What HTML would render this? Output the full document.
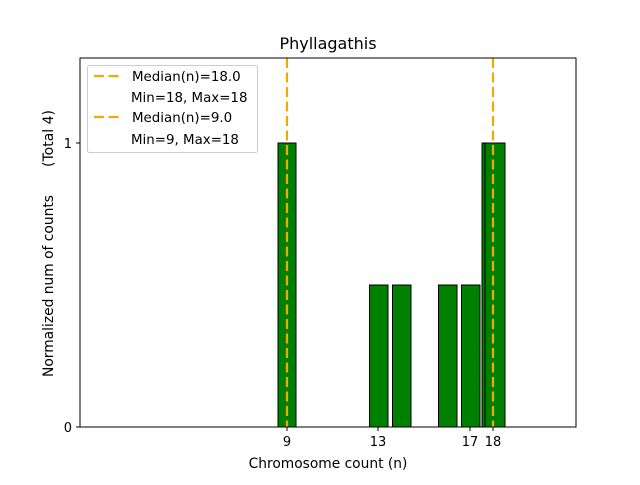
<!DOCTYPE html>
<html><head><style>body{margin:0;background:#fff}</style></head><body>
<svg width="640" height="480" xmlns="http://www.w3.org/2000/svg" font-family="DejaVu Sans, Liberation Sans, sans-serif">
<rect width="640" height="480" fill="#fff"/>
<g fill="green" stroke="#000" stroke-width="1">
<rect x="278" y="143" width="18" height="284"/>
<rect x="369.5" y="285" width="18.5" height="142"/>
<rect x="392.5" y="285" width="18.5" height="142"/>
<rect x="438.5" y="285" width="18.5" height="142"/>
<rect x="461.5" y="285" width="18.5" height="142"/>
<rect x="482" y="143" width="20" height="284"/>
<rect x="485" y="143" width="20" height="284"/>
</g>
<g stroke="#f2a900" stroke-width="2.2" stroke-dasharray="10,4.5">
<line x1="287" y1="58" x2="287" y2="427"/>
<line x1="493" y1="58" x2="493" y2="427"/>
</g>
<rect x="80" y="58" width="496" height="369" fill="none" stroke="#000" stroke-width="1"/>
<g stroke="#000"><line x1="76" y1="427" x2="80" y2="427"/><line x1="76" y1="143" x2="80" y2="143"/>
<line x1="287" y1="427" x2="287" y2="431"/><line x1="378" y1="427" x2="378" y2="431"/><line x1="470" y1="427" x2="470" y2="431"/><line x1="493" y1="427" x2="493" y2="431"/></g>
<g font-size="13" fill="#000">
<text x="72" y="432" text-anchor="end">0</text><text x="72" y="148" text-anchor="end">1</text>
<text x="287" y="446" text-anchor="middle">9</text><text x="378" y="446" text-anchor="middle">13</text>
<text x="470" y="446" text-anchor="middle">17</text><text x="493" y="446" text-anchor="middle">18</text>
<text x="328" y="468" text-anchor="middle" font-size="13.8">Chromosome count (n)</text>
<text transform="translate(53,286) rotate(-90)" text-anchor="middle" font-size="13.8" textLength="182" lengthAdjust="spacingAndGlyphs">Normalized num of counts</text>
<text transform="translate(53,138.5) rotate(-90)" text-anchor="middle" font-size="13.8" textLength="57" lengthAdjust="spacingAndGlyphs">(Total 4)</text>
</g>
<text x="328" y="49" text-anchor="middle" font-size="16">Phyllagathis</text>
<rect x="87.5" y="65.5" width="170" height="87" rx="2" fill="#fff" fill-opacity="0.8" stroke="#ccc"/>
<g stroke="#f2a900" stroke-width="2.2" stroke-dasharray="10,4.5"><line x1="94" y1="76" x2="122" y2="76"/><line x1="94" y1="117" x2="122" y2="117"/></g>
<g font-size="13.4" fill="#000">
<text x="132" y="81">Median(n)=18.0</text><text x="131" y="102">Min=18, Max=18</text>
<text x="132" y="122">Median(n)=9.0</text><text x="131" y="144">Min=9, Max=18</text>
</g>
</svg>
</body></html>
